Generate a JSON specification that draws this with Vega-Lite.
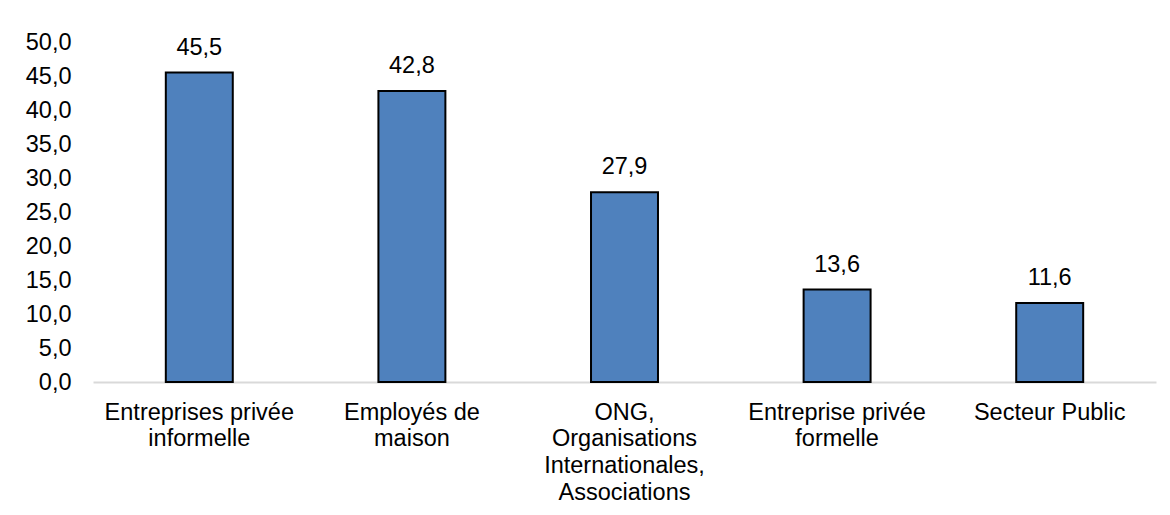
{
  "$schema": "https://vega.github.io/schema/vega-lite/v6.json",
  "autosize": "none",
  "width": 1063,
  "height": 340,
  "padding": {"left": 93, "top": 42, "right": 14, "bottom": 133},
  "background": "white",
  "config": {
    "view": {"stroke": null},
    "font": "Liberation Sans",
    "locale": {"number": {"decimal": ",", "thousands": " ", "grouping": [3], "currency": ["", " €"]}}
  },
  "data": {
    "values": [
      {"secteur": "Entreprises privée|informelle", "valeur": 45.5},
      {"secteur": "Employés de|maison", "valeur": 42.8},
      {"secteur": "ONG,|Organisations|Internationales,|Associations", "valeur": 27.9},
      {"secteur": "Entreprise privée|formelle", "valeur": 13.6},
      {"secteur": "Secteur Public", "valeur": 11.6}
    ]
  },
  "encoding": {
    "x": {
      "field": "secteur",
      "type": "nominal",
      "sort": null,
      "scale": {"paddingInner": 0.685, "paddingOuter": 0.3425},
      "axis": {
        "title": null,
        "labelAngle": 0,
        "labelExpr": "split(datum.label, '|')",
        "labelFont": "Liberation Sans",
        "labelFontSize": 23.5,
        "labelColor": "#000000",
        "labelLineHeight": 26.7,
        "labelPadding": 18,
        "ticks": false,
        "domainColor": "#d9d9d9",
        "domainWidth": 2,
        "labelLimit": 400
      }
    },
    "y": {
      "field": "valeur",
      "type": "quantitative",
      "scale": {"domain": [0, 50]},
      "axis": {
        "title": null,
        "values": [0, 5, 10, 15, 20, 25, 30, 35, 40, 45, 50],
        "format": ".1f",
        "labelFont": "Liberation Sans",
        "labelFontSize": 23.5,
        "labelColor": "#000000",
        "labelPadding": 22,
        "ticks": false,
        "domain": false,
        "grid": false
      }
    }
  },
  "layer": [
    {
      "mark": {"type": "bar", "color": "#4F81BD", "stroke": "#000000", "strokeWidth": 2}
    },
    {
      "mark": {"type": "text", "baseline": "middle", "dy": -25, "fontSize": 23.5, "font": "Liberation Sans", "color": "#000000"},
      "encoding": {
        "text": {"field": "valeur", "type": "quantitative", "format": ".1f"}
      }
    }
  ]
}
